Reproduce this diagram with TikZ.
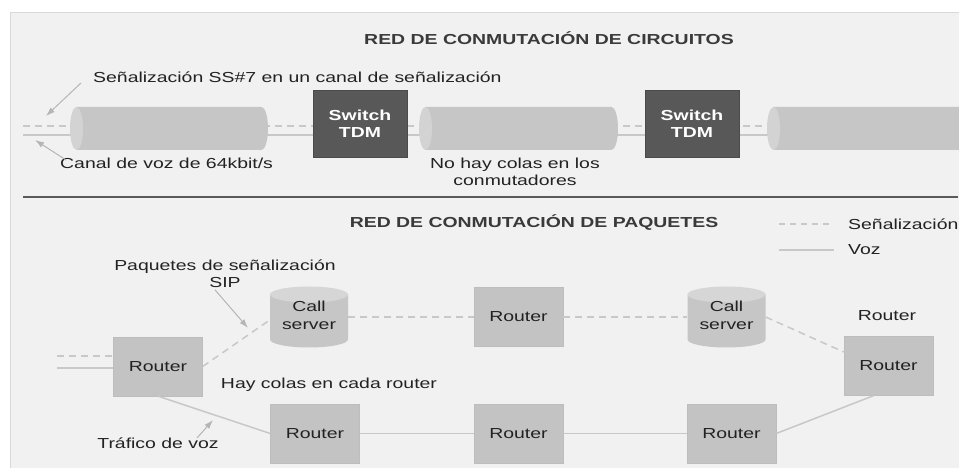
\documentclass[tikz,border=0pt]{standalone}
\usepackage{fontspec}
\setmainfont{Liberation Sans}[FakeStretch=1.34]
\usetikzlibrary{arrows.meta,calc}
\definecolor{panel}{HTML}{F1F1F1}
\definecolor{panelborder}{HTML}{D8D8D8}
\definecolor{txt}{HTML}{222222}
\definecolor{titlec}{HTML}{3A3A3A}
\definecolor{linec}{HTML}{C8C8C8}
\definecolor{arrowc}{HTML}{B5B5B5}
\definecolor{routerfill}{HTML}{C3C3C3}
\definecolor{routerdraw}{HTML}{BDBDBD}
\definecolor{swfill}{HTML}{585858}
\definecolor{cylbody}{HTML}{C6C6C6}
\definecolor{cylface}{HTML}{D3D3D3}
\definecolor{cyltop}{HTML}{D6D6D6}
\definecolor{dividerc}{HTML}{5A5A5A}
\newcommand\cstext[2]{\raisebox{-4pt}{\begin{tabular}{@{}c@{}}#1\\#2\end{tabular}}}
\begin{document}
\begin{tikzpicture}[x=1pt,y=1pt,
  font=\fontsize{14.5}{17.5}\selectfont,
  lbl/.style={text=txt, inner sep=0pt, align=center},
  titletext/.style={text=titlec, inner sep=0pt, font=\fontsize{14.5}{17.5}\selectfont\bfseries},
  router/.style={fill=routerfill, draw=routerdraw, minimum width=89pt, minimum height=59pt, inner sep=0pt, text=txt},
  switchbox/.style={fill=swfill, draw=swfill!85!black, minimum width=94pt, minimum height=67pt, inner sep=0pt, text=white, align=center, font=\fontsize{14.5}{17}\selectfont\bfseries},
  sig/.style={draw=linec, line width=1.5pt, dash pattern=on 7pt off 5pt},
  voice/.style={draw=linec, line width=1.5pt},
  pointer/.style={draw=arrowc, line width=1pt, -{Latex[length=9pt,width=6pt]}},
  callserver/.style={minimum width=78pt, minimum height=61pt, inner sep=0pt, text=txt,
    path picture={
      \fill[cylbody] ($(path picture bounding box.north west)+(0,-8)$) -- ($(path picture bounding box.south west)+(0,8)$)
        arc[start angle=180, end angle=360, x radius=39, y radius=8]
        -- ($(path picture bounding box.north east)+(0,-8)$) -- cycle;
      \fill[cyltop] ($(path picture bounding box.north)+(0,-8)$) ellipse[x radius=39, y radius=8];
    }}
]
\useasboundingbox (0,0) rectangle (959,468);
% panel
\draw[draw=panelborder, fill=panel, line width=1pt] (10,-5) rectangle (970,455);

% ---------- circuit switching ----------
\node[titletext] (t1) at (549,430) {RED DE CONMUTACIÓN DE CIRCUITOS};
\node[lbl, anchor=west] (ss7) at (93,391) {Señalización SS\#7 en un canal de señalización};
\node[lbl, anchor=west] (canal) at (60,305) {Canal de voz de 64kbit/s};
\node[lbl] (nocolas) at (515,296) {No hay colas en los\\conmutadores};

\draw[sig] (23,342) -- (959,342);
\draw[voice] (23,333) -- (959,333);

\foreach \xl/\xr in {76.5/261.5, 425.5/611.5, 773.5/1000}{
  \fill[cylbody] (\xl,361) -- (\xr,361) arc[start angle=90, end angle=-90, x radius=6.5, y radius=21.5] -- (\xl,318) -- cycle;
  \fill[cylface] (\xl,339.5) ellipse[x radius=6.5, y radius=21.5];
}

\node[switchbox] (sw1) at (360,344.5) {Switch\\TDM};
\node[switchbox] (sw2) at (692,344.5) {Switch\\TDM};

\coordinate (a1h) at (46,352);
\coordinate (a2h) at (35,328);
\draw[pointer] ([shift={(-12,-6)}]ss7.west) -- (a1h);
\draw[pointer] ([shift={(6,3)}]canal.west) -- (a2h);

\draw[draw=dividerc, line width=1.5pt] (23,271) -- (958,271);

% ---------- packet switching ----------
\node[titletext] (t2) at (534,245) {RED DE CONMUTACIÓN DE PAQUETES};
\node[lbl, anchor=west] (lsig) at (848,244) {Señalización};
\node[lbl, anchor=west] (lvoz) at (848,218) {Voz};
\draw[sig, dash pattern=on 6pt off 5pt] ($(lsig.west)+(-69,0)$) -- ($(lsig.west)+(-14,0)$);
\draw[voice] ($(lvoz.west)+(-69,0)$) -- ($(lvoz.west)+(-14,0)$);

\node[lbl] (paq) at (225,194.5) {Paquetes de señalización\\SIP};
\node[callserver] (cs1) at (309,151) {\cstext{Call}{server}};
\node[callserver] (cs2) at (726.5,151) {\cstext{Call}{server}};
\node[router] (rL) at (158,101.5) {Router};
\node[router] (rT) at (518.5,151) {Router};
\node[router] (rR) at (888.5,102) {Router};
\node[router] (rB1) at (315,34.5) {Router};
\node[router] (rB2) at (518.5,34.5) {Router};
\node[router] (rB3) at (731.5,34.5) {Router};
\node[lbl] (rRlbl) at (887,152) {Router};
\node[lbl] (colas) at (329,83) {Hay colas en cada router};
\node[lbl] (traf) at (158,25) {Tráfico de voz};

\coordinate (inS) at (57,112);
\coordinate (inV) at (57,100);
\draw[sig] (inS) -- (inS -| rL.west);
\draw[voice] (inV) -- (inV -| rL.west);

\draw[sig] (rL.east) -- ([yshift=-3]cs1.west);
\draw[sig] (cs1.east) -- (rT.west);
\draw[sig] (rT.east) -- (cs2.west);
\draw[sig] (cs2.east) -- ([yshift=14]rR.west);

\draw[voice] (rL.south) -- (rB1.west);
\draw[voice] (rB1.east) -- (rB2.west);
\draw[voice] (rB2.east) -- (rB3.west);
\draw[voice] (rB3.east) -- ([xshift=-15]rR.south);

\coordinate (a3h) at (248,140);
\coordinate (a4h) at (213,48);
\draw[pointer] ([xshift=-10,yshift=-2]paq.south) -- (a3h);
\draw[pointer] ([shift={(39,5)}]traf.center) -- (a4h);
\end{tikzpicture}
\end{document}
